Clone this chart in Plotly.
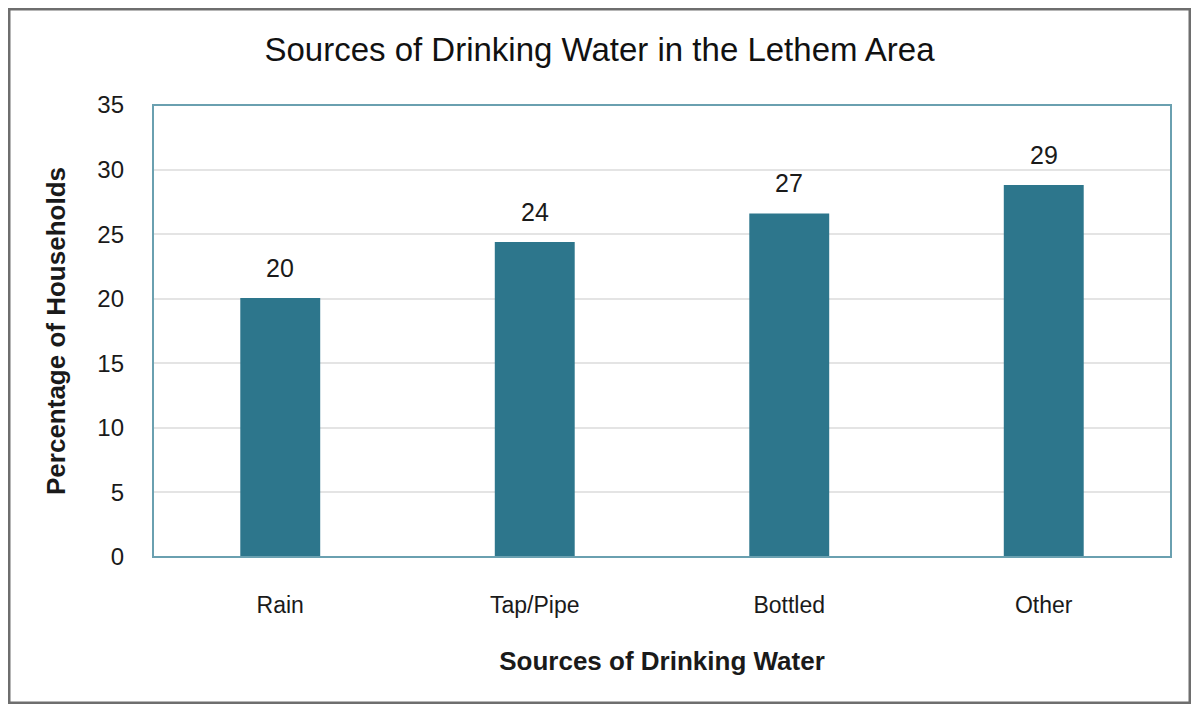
import plotly.graph_objects as go

# data
sources = ['Rain', 'Tap/Pipe', 'Bottled', 'Other']
households_pct = [20.05, 24.4, 26.6, 28.8]
y_ticks = [0, 5, 10, 15, 20, 25, 30, 35]

font_family = "Liberation Sans, Arial, sans-serif"

trace = go.Bar(
    x=sources,
    y=households_pct,
    marker=dict(color='#2D768C', line=dict(width=0)),
)
fig = go.Figure(data=[trace])

# value labels above the bars (rounded like the original)
for src, val in zip(sources, households_pct):
    fig.add_annotation(x=src, y=val, text=f"{val:.0f}", showarrow=False,
                       yanchor='bottom', yshift=14,
                       font=dict(size=25, color='#1a1a1a'))

# page body has an 8px margin, so the figure is a bit smaller than the window
fig.update_layout(
    width=1183,
    height=696,
    margin={'l': 145, 'r': 20, 't': 97, 'b': 147},
    paper_bgcolor='white',
    plot_bgcolor='white',
    bargap=0.686,
    showlegend=False,
    font=dict(family=font_family, color='#1a1a1a'),
    title={
        'text': "Sources of Drinking Water in the Lethem Area",
        'y': 0.94,
        'x': 0.5,
        'xanchor': 'center',
        'yanchor': 'middle',
        'font': dict(size=33, color='#111111'),
    },
)

fig.update_xaxes(
    showline=False,
    showgrid=False,
    ticks='',
    tickfont=dict(size=23),
    ticklabelstandoff=32,
    title=dict(text='<b>Sources of Drinking Water</b>', font=dict(size=26), standoff=34),
)
fig.update_yaxes(
    range=[0, 35],
    tickvals=y_ticks,
    showgrid=True,
    gridcolor='#E4E4E4',
    gridwidth=1.5,
    zeroline=False,
    showline=False,
    ticks='',
    tickfont=dict(size=24),
    ticklabelstandoff=28,
    title=dict(text='<b>Percentage of Households</b>', font=dict(size=26), standoff=24),
)

# teal frame round the plot area
fig.add_shape(type='rect', xref='paper', yref='paper', x0=0, x1=1, y0=0, y1=1,
              line=dict(color='#6AA0B0', width=2), layer='above')
# grey frame round the whole chart
fig.add_shape(type='rect', xref='paper', yref='paper',
              x0=-144 / 1018, x1=1 + 19 / 1018, y0=-146 / 452, y1=1 + 96 / 452,
              line=dict(color='#6E6E6E', width=3), layer='above')

fig.write_html("out.html")
